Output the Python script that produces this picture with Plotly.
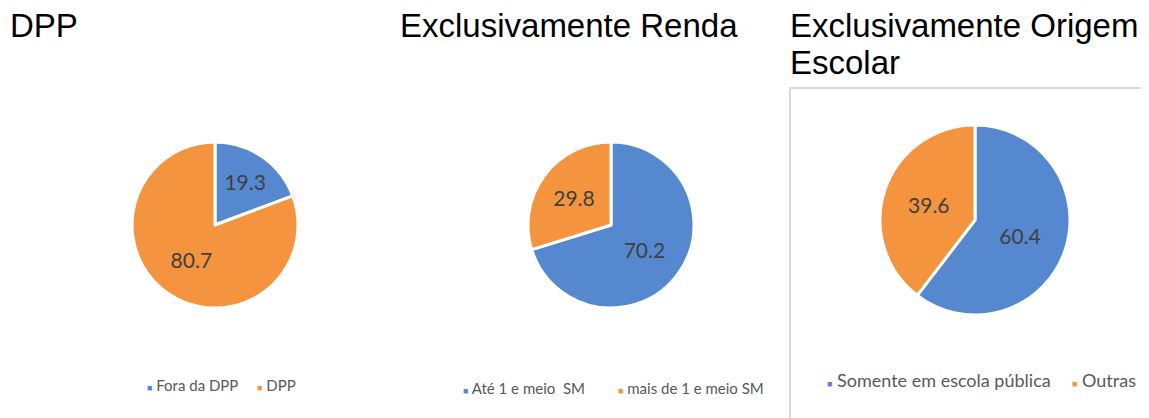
import plotly.graph_objects as go

OFF = 8  # default page body margin
W, H = 1149 - OFF, 418 - OFF

titles = ["DPP", "Exclusivamente Renda", "Exclusivamente Origem", "Escolar"]
labels_dpp = ["Fora da DPP", "DPP"]
values_dpp = [19.3, 80.7]
labels_renda = ["Até 1 e meio  SM", "mais de 1 e meio SM"]
values_renda = [70.2, 29.8]
labels_escola = ["Somente em escola pública", "Outras"]
values_escola = [60.4, 39.6]

BLUE = "#5588CE"
ORANGE = "#F4943F"
colors = [BLUE, ORANGE]


def px_x(v):
    return (v - OFF) / W


def px_y(v):
    return 1 - (v - OFF) / H


fig = go.Figure()

pies = [
    (labels_dpp, values_dpp, (132, 298), (142, 308)),
    (labels_renda, values_renda, (528, 694), (142, 308)),
    (labels_escola, values_escola, (880, 1070), (125, 315)),
]

for labels, values, (x0, x1), (y0, y1) in pies:
    fig.add_trace(go.Pie(
        labels=labels, values=values, sort=False, direction="clockwise", rotation=0,
        marker=dict(colors=colors, line=dict(color="white", width=3)),
        texttemplate="%{value:.1f}", textposition="inside",
        insidetextorientation="horizontal",
        textfont=dict(family="Lato, Open Sans, sans-serif", size=21, color="#404040"),
        domain=dict(x=[px_x(x0), px_x(x1)], y=[px_y(y1), px_y(y0)]),
        showlegend=False, hoverinfo="label+value",
    ))

annotations = []
title_pos = [(8, 5), (398, 5), (788, 5), (788, 42)]
for t, (x, y) in zip(titles, title_pos):
    annotations.append(dict(text=t, x=px_x(x), y=px_y(y), xref="paper", yref="paper",
                            xanchor="left", yanchor="top", showarrow=False,
                            font=dict(family="Liberation Sans, Arial, sans-serif", size=33, color="black")))

# legends
legend_specs = [
    (labels_dpp, [(145, 385), (255, 385)], 15),
    (labels_renda, [(461, 388), (616, 388)], 15),
    (labels_escola, [(825, 380), (1070, 380)], 18),
]
for labels, positions, fs in legend_specs:
    for lab, col, (x, y) in zip(labels, colors, positions):
        annotations.append(dict(
            text=f"<span style='color:{col};font-size:9px'>■</span>&nbsp;{lab}",
            x=px_x(x), y=px_y(y), xref="paper", yref="paper",
            xanchor="left", yanchor="middle", showarrow=False,
            font=dict(family="Lato, Open Sans, sans-serif", size=fs, color="#595959")))

fig.update_layout(
    width=W, height=H, margin=dict(l=0, r=0, t=0, b=0),
    paper_bgcolor="white", plot_bgcolor="white",
    annotations=annotations,
    shapes=[dict(type="rect", xref="paper", yref="paper",
                 x0=px_x(790), x1=1.05, y0=-0.05, y1=px_y(88),
                 line=dict(color="#D9D9D9", width=2), fillcolor="rgba(0,0,0,0)")],
)

fig.write_html("out.html")
